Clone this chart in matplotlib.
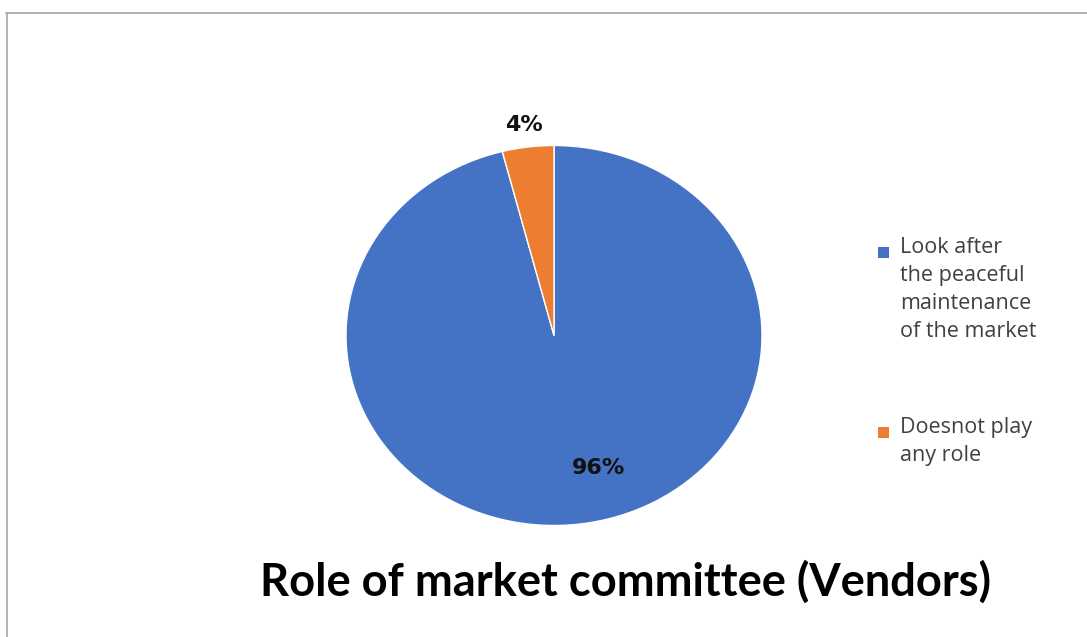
import matplotlib.pyplot as plt
from matplotlib.lines import Line2D
from matplotlib.patches import Rectangle

roles = ["Look after\nthe peaceful\nmaintenance\nof the market", "Doesnot play\nany role"]
shares = [96, 4]
colors = ["#4472C4", "#ED7D31"]
title = "Role of market committee (Vendors)"

W, H = 1087, 637
fig = plt.figure(figsize=(W / 100, H / 100), dpi=100)

# pie area in pixels (slightly wider than tall)
cx, cy, rx, ry = 554, 335.5, 208, 190
ax = fig.add_axes([(cx - rx) / W, 1 - (cy + ry) / H, 2 * rx / W, 2 * ry / H])
wedges, _ = ax.pie(shares, colors=colors, startangle=90, counterclock=False,
                   wedgeprops=dict(edgecolor="white", linewidth=1))
ax.set_aspect("auto")
ax.set_xlim(-1, 1)
ax.set_ylim(-1, 1)
ax.axis("off")

# percentage labels
label_pos = [(0.216, -0.70), (-0.144, 1.11)]
for v, (lx, ly) in zip(shares, label_pos):
    ax.text(lx, ly, f"{v}%", ha="center", va="center", fontsize=16,
            fontweight="heavy", color="#111111", family="DejaVu Sans", clip_on=False)

# legend drawn by hand so the marker sits on the first line
entry_top = [247, 427]
for lab, col, top in zip(roles, colors, entry_top):
    fig.patches.append(Rectangle((878 / W, 1 - (top + 11) / H), 11 / W, 11 / H,
                                 transform=fig.transFigure, facecolor=col, edgecolor="none"))
    fig.text(900 / W, 1 - (top - 10) / H, lab, ha="left", va="top", fontsize=15.5,
             family="Open Sans", color="#404040", linespacing=1.44)

fig.text(626 / W, 1 - 582 / H, title, ha="center", va="center", fontsize=32.6,
         fontweight="bold", family="Lato", color="black")

# outer frame lines
fig.add_artist(Line2D([6 / W, 1], [1 - 13 / H, 1 - 13 / H], color="#A6A6A6", lw=1.2))
fig.add_artist(Line2D([7 / W, 7 / W], [0, 1 - 13 / H], color="#A6A6A6", lw=1.2))

fig.savefig("out.png", dpi=100)
